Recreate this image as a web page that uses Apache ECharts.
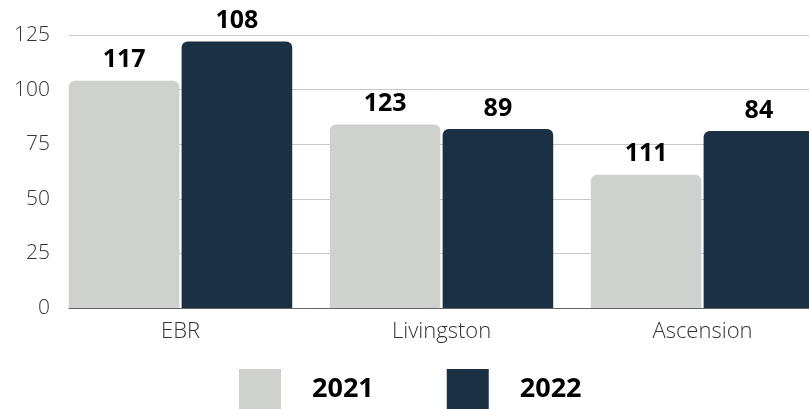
<!DOCTYPE html>
<html>
<head>
<meta charset="utf-8">
<script src="https://cdn.jsdelivr.net/npm/echarts@6/dist/echarts.min.js"></script>
<style>
html,body{margin:0;padding:0;background:#fff;}
#chart{width:809px;height:409px;}
</style>
</head>
<body>
<div id="chart"></div>
<script>
var categories = ['EBR', 'Livingston', 'Ascension'];
var seriesNames = ['2021', '2022'];
var values2021 = [104, 84, 61];
var values2022 = [122, 82, 81];
var labels2021 = [117, 123, 111];
var labels2022 = [108, 89, 84];
var yMin = 0, yMax = 125, yInterval = 25;

var FONT = '"Open Sans", "Noto Sans", sans-serif';
var chart = echarts.init(document.getElementById('chart'), null, {renderer: 'canvas'});

function labelFor(arr) {
  return {
    show: true,
    position: 'top',
    distance: 8,
    fontFamily: FONT,
    fontWeight: 'bold',
    fontSize: 25,
    color: '#000',
    formatter: function (p) { return String(arr[p.dataIndex]); }
  };
}

var option = {
  animation: false,
  backgroundColor: '#fff',
  grid: [
    {left: 69, width: 764, top: 35, height: 273, outerBoundsMode: 'none', containLabel: false},
    {left: 50, width: 783, top: 35, height: 273, outerBoundsMode: 'none', containLabel: false}
  ],
  legend: {
    data: seriesNames,
    left: 234,
    top: 364,
    itemWidth: 42,
    itemHeight: 40,
    itemGap: 73,
    icon: 'rect',
    textStyle: {fontFamily: FONT, fontWeight: 'bold', fontSize: 27, color: '#000', padding: [0, 0, 0, 26]}
  },
  xAxis: [
    {
      type: 'category', gridIndex: 0, data: categories,
      axisLine: {show: true, lineStyle: {color: '#666', width: 1}},
      axisTick: {show: false}, axisLabel: {show: false}, splitLine: {show: false}
    },
    {
      type: 'category', gridIndex: 1, data: categories,
      axisLine: {show: false}, axisTick: {show: false},
      axisLabel: {show: true, margin: 13, fontFamily: FONT, fontWeight: 300, fontSize: 22, color: '#333'}
    }
  ],
  yAxis: [
    {
      type: 'value', gridIndex: 0, min: yMin, max: yMax, interval: yInterval,
      axisLine: {show: false}, axisTick: {show: false},
      axisLabel: {margin: 19, fontFamily: FONT, fontWeight: 300, fontSize: 21, color: '#333'},
      splitLine: {show: true, lineStyle: {color: '#c8c8c8', width: 1}}
    },
    {
      type: 'value', gridIndex: 1, min: yMin, max: yMax, interval: yInterval,
      axisLine: {show: false}, axisTick: {show: false},
      axisLabel: {show: false}, splitLine: {show: false}
    }
  ],
  series: [
    {
      name: seriesNames[0], type: 'bar', xAxisIndex: 1, yAxisIndex: 1,
      data: values2021, barGap: '2%', barCategoryGap: '14.4%',
      itemStyle: {color: '#cfd1ce', borderRadius: [6, 6, 0, 0]},
      label: labelFor(labels2021)
    },
    {
      name: seriesNames[1], type: 'bar', xAxisIndex: 1, yAxisIndex: 1,
      data: values2022, barGap: '2%', barCategoryGap: '14.4%',
      itemStyle: {color: '#1c3044', borderRadius: [6, 6, 0, 0]},
      label: labelFor(labels2022)
    }
  ]
};
chart.setOption(option);
</script>
</body>
</html>
